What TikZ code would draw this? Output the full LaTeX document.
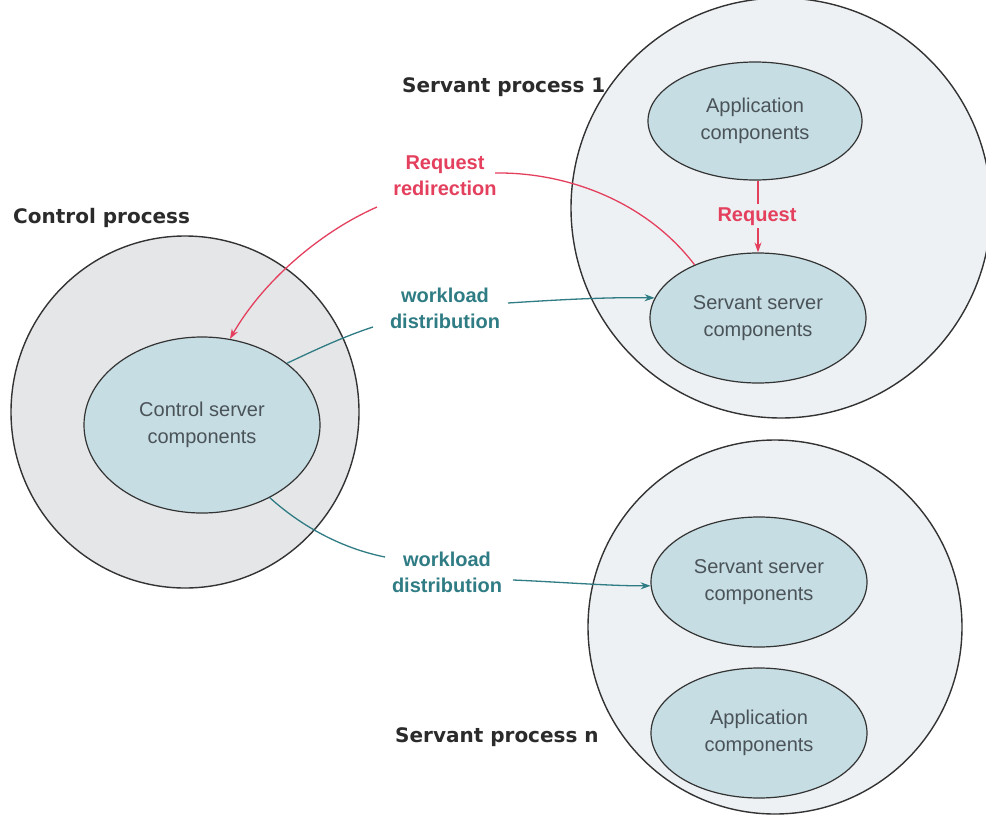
\documentclass[tikz,border=0pt]{standalone}
\usepackage{fontspec}
\setmainfont{Liberation Sans}
\newfontfamily\lblfont{DejaVu Sans}
\usetikzlibrary{shapes.geometric,arrows.meta}
\definecolor{outline}{HTML}{333333}
\definecolor{cpfill}{HTML}{E5E6E8}
\definecolor{spfill}{HTML}{EDF1F3}
\definecolor{innerfill}{HTML}{C6DDE3}
\definecolor{redc}{HTML}{E4405E}
\definecolor{tealc}{HTML}{2F7C84}
\definecolor{bodyc}{HTML}{4A5358}
\definecolor{lblc}{HTML}{2B2B2B}
\begin{document}
\begin{tikzpicture}[x=1pt,y=-1pt,
  proc/.style={ellipse, draw=outline, line width=1.4pt, inner sep=0pt},
  comp/.style={ellipse, draw=outline, line width=1.2pt, fill=innerfill, inner sep=0pt,
    minimum width=216pt, minimum height=130pt, align=center, text=bodyc,
    font=\fontsize{20}{27}\selectfont},
  plabel/.style={anchor=base west, inner sep=0pt, text=lblc,
    font=\lblfont\bfseries\fontsize{20}{24}\selectfont},
  clabel/.style={align=center, inner sep=0pt, font=\bfseries\fontsize{20}{26}\selectfont},
  redline/.style={draw=redc, line width=1.3pt},
  tealline/.style={draw=tealc, line width=1.3pt},
  tip/.style={-{Stealth[length=10pt,width=7pt]}}
]
\clip (0,0) rectangle (986,825);
\fill[white] (0,0) rectangle (986,825);

% process circles
\node[proc, fill=cpfill, minimum width=348pt, minimum height=352pt] (cp) at (185,412) {};
\node[proc, fill=spfill, minimum size=420pt] (sp1) at (781,208) {};
\node[proc, fill=spfill, minimum size=374pt] (spn) at (775,627) {};

% components
\node[comp, minimum width=236pt, minimum height=176pt] (cs) at (202,425) {Control server\\components};
\node[comp, minimum width=214pt, minimum height=118pt] (app1) at (755,121) {Application\\components};
\node[comp] (ss1) at (758,318) {Servant server\\components};
\node[comp] (ss2) at (759,582) {Servant server\\components};
\node[comp] (app2) at (759,733) {Application\\components};

% process labels
\node[plabel] (lcp) at (13,223) {Control process};
\node[plabel] (lsp1) at (402,92) {Servant process 1};
\node[plabel] (lspn) at (395,742) {Servant process n};

% connector labels
\node[clabel, text=redc] (redir) at (445,176) {Request\\redirection};
\node[clabel, text=tealc] (wl1) at (445,308) {workload\\distribution};
\node[clabel, text=tealc] (wl2) at (447,572) {workload\\distribution};

% free ends near labels
\coordinate (r1) at (495,173);
\coordinate (r2) at (377,207);
\coordinate (w1a) at (373,327);
\coordinate (w1b) at (508,303);
\coordinate (w2a) at (385,557);
\coordinate (w2b) at (513,580);

% request arrow
\draw[redline, tip] (app1.south -| ss1.north) -- (ss1.north);
\node[clabel, text=redc, fill=spfill, inner sep=3pt, anchor=base] (req) at (757,221) {Request};

% request redirection
\draw[redline] (ss1.140) .. controls (645,200) and (565,172) .. (r1);
\draw[redline, tip] (r2) .. controls (318,233) and (262,283) .. (cs.72);

% workload distribution (upper)
\draw[tealline] (cs.36) .. controls (315,350) and (345,336) .. (w1a);
\draw[tealline, tip] (w1b) .. controls (555,300) and (605,297) .. (ss1.169);

% workload distribution (lower)
\draw[tealline] (cs.313) .. controls (300,525) and (340,548) .. (w2a);
\draw[tealline, tip] (w2b) .. controls (560,582) and (610,586) .. (ss2.182);
\end{tikzpicture}
\end{document}
